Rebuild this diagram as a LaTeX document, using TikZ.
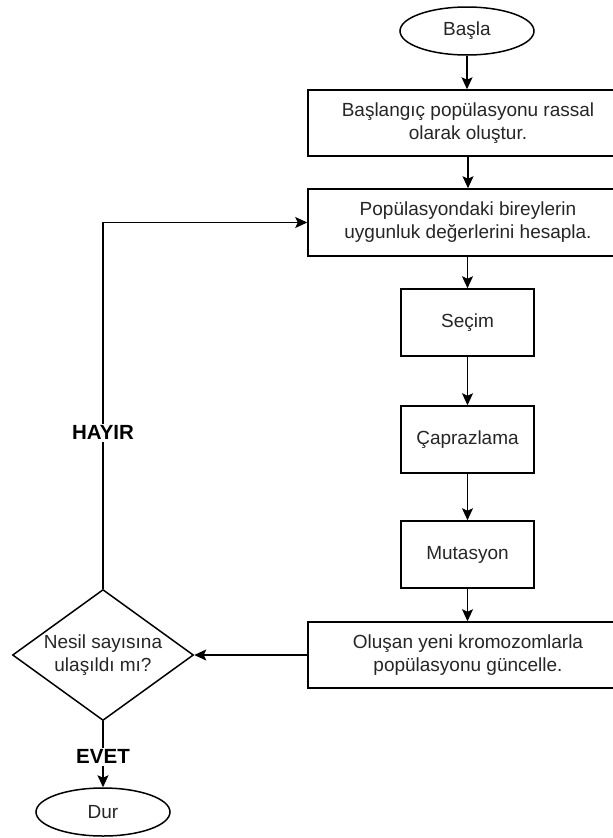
\documentclass[tikz,border=0pt]{standalone}
\usepackage{fontspec}
\setmainfont{Liberation Sans}
\usetikzlibrary{shapes.geometric,arrows.meta}
\begin{document}
\begin{tikzpicture}[x=1pt,y=-1pt,
  every node/.style={font=\fontsize{19}{23}\selectfont, text=black!85},
  proc/.style={draw, line width=1.5pt, rectangle, align=center, inner sep=0pt},
  term/.style={draw, ellipse, line width=1.5pt, inner sep=0pt},
  dec/.style={draw, diamond, line width=1.5pt, inner sep=0pt},
  arr/.style={line width=1.5pt, -{Stealth[length=12pt,width=11pt,inset=2.5pt]}},
  lbl/.style={fill=white, font=\fontsize{20.5}{24}\selectfont\bfseries, text=black, inner sep=2pt}]
\useasboundingbox (0,0) rectangle (613,838);
\fill[white] (0,0) rectangle (613,838);
\node[term, minimum width=134, minimum height=48] (basla) at (467,31) {Başla};
\node[proc, minimum width=320, minimum height=66] (b1) at (468,123) {Başlangıç popülasyonu rassal\\olarak oluştur.};
\node[proc, minimum width=320, minimum height=67] (b2) at (468,222.5) {Popülasyondaki bireylerin\\uygunluk değerlerini hesapla.};
\node[proc, minimum width=133, minimum height=67] (secim) at (467.5,322.5) {Seçim};
\node[proc, minimum width=133, minimum height=67] (capraz) at (467.5,439.5) {Çaprazlama};
\node[proc, minimum width=133, minimum height=67] (mut) at (467.5,554.5) {Mutasyon};
\node[proc, minimum width=320, minimum height=66] (b3) at (468,655) {Oluşan yeni kromozomlarla\\popülasyonu güncelle.};
\node[dec, minimum width=181, minimum height=131] (dec) at (103,655) {};
\node[align=center] (dectext) at (dec.center) {Nesil sayısına\\ulaşıldı mı?};
\node[term, minimum width=134, minimum height=48] (dur) at (103,812) {Dur};

\draw[arr] (basla.south) -- (basla.south |- b1.north);
\draw[arr] (b1.south) -- (b2.north);
\draw[arr] (secim.north |- b2.south) -- (secim.north);
\draw[arr] (secim.south) -- (capraz.north);
\draw[arr] (capraz.south) -- (mut.north);
\draw[arr] (mut.south) -- (mut.south |- b3.north);
\draw[arr] (b3.west) -- (dec.east);
\draw[arr] (dec.north) |- (b2.west) node[lbl, pos=0.213] (hayir) {HAYIR};
\draw[arr] (dec.south) -- (dur.north) node[lbl, pos=0.54] (evet) {EVET};
\end{tikzpicture}
\end{document}
